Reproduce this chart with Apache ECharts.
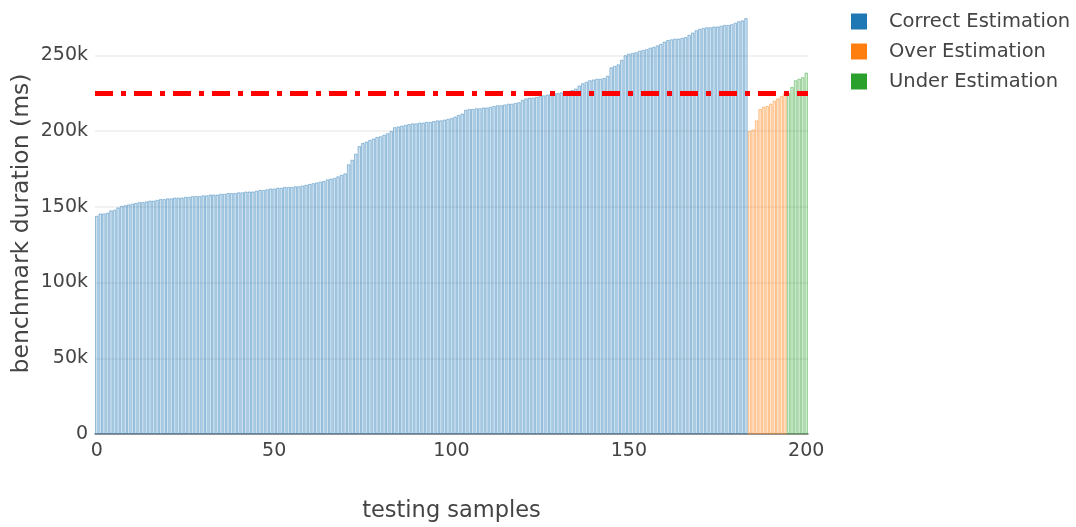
<!DOCTYPE html>
<html>
<head>
<meta charset="utf-8">
<title>benchmark duration</title>
<script src="https://cdn.jsdelivr.net/npm/echarts@6.0.0/dist/echarts.min.js"></script>
<style>
  html, body { margin: 0; padding: 0; background: #fff; }
  #main { width: 1076px; height: 527px; }
</style>
</head>
<body>
<div id="main"></div>
<script>
// testing sample index (x categories)
var samples = [];
for (var i = 0; i <= 200; i++) samples.push(i);

// benchmark duration (ms)
// samples 0..183
var correctValues = [
  144000, 145500, 145500, 146000, 147500, 148000, 149500, 150500, 151000, 151500,
  152000, 152500, 153000, 153000, 153500, 154000, 154000, 154500, 155000, 155000,
  155500, 155500, 156000, 156000, 156000, 156500, 156500, 157000, 157000, 157000,
  157500, 157500, 158000, 158000, 158000, 158500, 158500, 159000, 159000, 159000,
  159500, 159500, 160000, 160000, 160000, 160500, 161000, 161000, 161500, 162000,
  162000, 162500, 162500, 163000, 163000, 163000, 163500, 163500, 164000, 164500,
  165000, 165500, 166000, 166500, 167000, 168000, 168500, 169000, 170000, 171000,
  172000, 178000, 181000, 185000, 190000, 192000, 193000, 194000, 195000, 196000,
  196500, 197500, 198500, 200000, 202500, 203000, 203500, 204000, 204500, 205000,
  205000, 205500, 205500, 206000, 206000, 206500, 207000, 207000, 207500, 208000,
  208500, 209500, 210500, 211500, 214000, 214500, 214500, 215000, 215000, 215500,
  215500, 216000, 216500, 217000, 217000, 217500, 218000, 218000, 218500, 219000,
  220500, 221500, 222000, 222000, 222500, 223000, 223500, 224000, 224500, 225000,
  225000, 225500, 226000, 226500, 227000, 228000, 230000, 231500, 232500, 233500,
  234000, 234500, 234500, 235000, 236500, 242000, 243000, 244000, 247000, 250000,
  251000, 251500, 252000, 253000, 253500, 254000, 255000, 255500, 256500, 257500,
  259000, 260000, 260500, 261000, 261000, 261500, 262000, 263500, 265000, 266500,
  267500, 268000, 268500, 268500, 269000, 269000, 269500, 270000, 270000, 270500,
  271500, 272500, 273000, 274500
];
// samples 184..194
var overValues = [200000, 201000, 207000, 214500, 216000, 216500, 218000, 220000, 221500, 223000, 225000];
// samples 195..200
var underValues = [225000, 229000, 233500, 234500, 235500, 238500];

var threshold = 225000;
var yTicks = [0, 50000, 100000, 150000, 200000, 250000];

// place each group at its sample positions
function place(values, start) {
  var arr = samples.map(function () { return '-'; });
  for (var k = 0; k < values.length; k++) arr[start + k] = values[k];
  return arr;
}
var overStart = correctValues.length;
var underStart = overStart + overValues.length;

var myChart = echarts.init(document.getElementById('main'));

var barBase = {
  type: 'bar',
  barGap: '-100%',
  barCategoryGap: '12%',
  animation: false
};

var option = {
  backgroundColor: '#fff',
  textStyle: { fontFamily: '"DejaVu Sans", Verdana, sans-serif' },
  grid: { left: 95, right: 268, top: 13, bottom: 93, containLabel: false, outerBoundsMode: 'none' },
  legend: {
    orient: 'vertical',
    left: 846,
    top: 6,
    itemWidth: 16,
    itemHeight: 16,
    itemGap: 9,
    icon: 'rect',
    textStyle: { fontSize: 19.5, lineHeight: 21, color: '#444', padding: [0, 0, 0, 17] },
    data: [
      { name: 'Correct Estimation', itemStyle: { color: '#1f77b4', borderWidth: 0, opacity: 1 } },
      { name: 'Over Estimation', itemStyle: { color: '#ff7f0e', borderWidth: 0, opacity: 1 } },
      { name: 'Under Estimation', itemStyle: { color: '#2ca02c', borderWidth: 0, opacity: 1 } }
    ]
  },
  xAxis: {
    type: 'category',
    data: samples,
    name: 'testing samples',
    nameLocation: 'middle',
    nameGap: 66,
    nameMoveOverlap: false,
    nameTextStyle: { fontSize: 22.5, color: '#444' },
    axisLine: { lineStyle: { color: '#777', width: 1.5 } },
    axisTick: { show: false },
    axisLabel: {
      interval: function (idx) { return idx % 50 === 0; },
      fontSize: 19,
      color: '#444',
      margin: 8
    },
    splitLine: { show: false }
  },
  yAxis: {
    type: 'value',
    min: 0,
    max: 278000,
    interval: 50000,
    name: 'benchmark duration (ms)',
    nameLocation: 'middle',
    nameGap: 61,
    nameMoveOverlap: false,
    nameTextStyle: { fontSize: 23.5, color: '#444' },
    axisLine: { show: false },
    axisTick: { show: false },
    axisLabel: {
      fontSize: 19,
      color: '#444',
      margin: 7,
      showMaxLabel: false,
      formatter: function (v) {
        if (yTicks.indexOf(v) < 0) return '';
        return v === 0 ? '0' : (v / 1000) + 'k';
      }
    },
    splitLine: { showMaxLine: false, lineStyle: { color: '#eee', width: 1.5 } }
  },
  series: [
    Object.assign({}, barBase, {
      name: 'Correct Estimation',
      data: place(correctValues, 0),
      itemStyle: { color: 'rgba(31,119,180,0.22)', borderColor: 'rgba(31,119,180,0.7)', borderWidth: 0.6 },
      markLine: {
        silent: true,
        symbol: 'none',
        label: { show: false },
        lineStyle: { color: '#ff0000', width: 5, type: [18, 8, 5, 8] },
        data: [{ yAxis: threshold }]
      }
    }),
    Object.assign({}, barBase, {
      name: 'Over Estimation',
      data: place(overValues, overStart),
      itemStyle: { color: 'rgba(255,127,14,0.22)', borderColor: 'rgba(255,127,14,0.7)', borderWidth: 0.6 }
    }),
    Object.assign({}, barBase, {
      name: 'Under Estimation',
      data: place(underValues, underStart),
      itemStyle: { color: 'rgba(44,160,44,0.22)', borderColor: 'rgba(44,160,44,0.7)', borderWidth: 0.6 }
    })
  ]
};

myChart.setOption(option);
</script>
</body>
</html>
